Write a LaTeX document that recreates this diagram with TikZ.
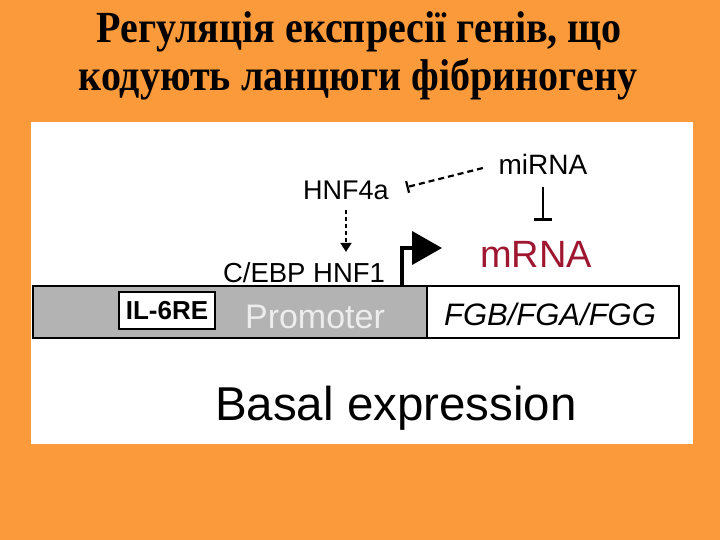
\documentclass[tikz,border=0pt]{standalone}
\usepackage{fontspec}
\setmainfont{Liberation Sans}
\newfontfamily\titlefont{Liberation Serif Bold}[FakeStretch=0.9]
\usetikzlibrary{arrows.meta, positioning, calc}
\definecolor{slidebg}{HTML}{FB9A3A}
\definecolor{promgrey}{HTML}{B3B3B3}
\definecolor{promtext}{HTML}{EDEDED}
\definecolor{mrnared}{HTML}{9E1630}
\newcommand{\fs}[1]{\fontsize{#1}{#1}\selectfont}
\newcommand{\genepart}[4]{%
  \node[draw=black, line width=2pt, fill=#4, minimum width=#3,
        minimum height=52, inner sep=0pt, anchor=west] (#1) at (#2,312) {};}

\begin{document}
\begin{tikzpicture}[x=1pt, y=-1pt,
    lbl/.style={inner sep=3pt, anchor=base},
    inhib/.style={line width=2.2pt, -{Bar[width=18pt, line width=2.2pt]}},
    dashinhib/.style={line width=2.2pt, dash pattern=on 6pt off 4pt,
                      -{Bar[width=12pt, line width=2.2pt]}},
    dasharrow/.style={line width=2pt, dash pattern=on 4pt off 3pt,
                      -{Triangle[length=9pt, width=11pt]}}]
  \useasboundingbox (0,0) rectangle (720,540);
  \fill[slidebg] (0,0) rectangle (720,540);
  \fill[white] (31,122) rectangle (693,444);

  % title
  \node[lbl, font={\titlefont\fs{44.5}}] (title1) at (359,43) {Регуляція експресії генів, що};
  \node[lbl, font={\titlefont\fs{44.5}}] (title2) at (358,91) {кодують ланцюги фібриногену};

  % gene
  \genepart{prom}{32}{394}{promgrey}
  \genepart{gene}{426}{252}{white}
  \node[draw=black, line width=2.5pt, fill=white, minimum width=96,
        minimum height=37, inner sep=0pt, font={\bfseries\fs{26}}] (il6re) at (167,310.5) {IL-6RE};
  \node[lbl, font=\fs{34}, text=promtext] (promtxt) at (315,328) {Promoter};
  \node[lbl, font={\itshape\fs{31}}] (genetxt) at (550,325) {FGB/FGA/FGG};

  % factors
  \node[lbl, font=\fs{27.5}] (cebp) at (304,282) {C/EBP HNF1};
  \node[lbl, font=\fs{27}] (hnf4a) at (346,200) {HNF4a};
  \node[lbl, font=\fs{28}] (mirna) at (543,175) {miRNA};
  \node[lbl, font=\fs{38}, text=mrnared] (mrna) at (536,267) {mRNA};

  % transcription start
  \coordinate (tss) at (402,286);
  \coordinate (tsstip) at (442,248);
  \draw[line width=4pt, -{Triangle[length=30pt, width=33pt]}] (tss) |- (tsstip);

  % regulation
  \draw[dasharrow, shorten <=7pt, shorten >=7pt] (hnf4a.south) -- (hnf4a.south |- cebp.north);
  \draw[dashinhib, shorten <=13pt, shorten >=15pt] (mirna.west) -- (hnf4a.east);
  \draw[inhib, shorten <=9pt, shorten >=17pt] (mirna.south) -- (mirna.south |- mrna.north);

  \node[lbl, font=\fs{47.5}] (basal) at (396,420) {Basal expression};
\end{tikzpicture}
\end{document}
